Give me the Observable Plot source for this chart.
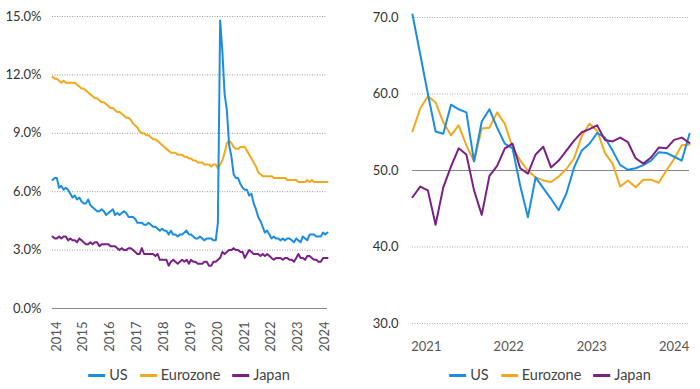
<!DOCTYPE html>
<html>
<head>
<meta charset="utf-8">
<script src="https://cdn.jsdelivr.net/npm/d3@7"></script>
<script src="https://cdn.jsdelivr.net/npm/@observablehq/plot@0.6"></script>
<style>
  body { margin: 0; background: #fff; font-family: Lato, Inter, sans-serif; }
  #wrap { position: relative; width: 700px; height: 389px; overflow: hidden; }
  .panel { position: absolute; top: 0; width: 350px; height: 389px; }
  .legend { position: absolute; top: 366px; transform: translateX(-50%); display: flex; align-items: center; white-space: nowrap; font-size: 14.5px; color: #444; line-height: 18px; }
  .item { display: flex; align-items: center; margin: 0 6px; }
  .sw { display: inline-block; width: 17px; height: 3px; margin-right: 4px; }
</style>
</head>
<body>
<div id="wrap">
  <div class="panel" id="left" style="left:0"></div>
  <div class="panel" id="right" style="left:350px"></div>
</div>
<script>
// ---------- Data ----------
const seriesNames = ["US", "Eurozone", "Japan"];
const seriesColors = ["#1a8de3", "#f2a81d", "#7a1f86"];

// Left panel: monthly unemployment rate (%), Jan 2014 - Apr 2024
const leftStartYear = 2014;
const usUnemp = [
  6.6,6.7,6.7,6.2,6.3,6.1,6.2,6.1,5.9,5.7,5.8,5.6,
  5.7,5.5,5.4,5.4,5.6,5.3,5.2,5.1,5.0,5.0,5.1,5.0,
  4.8,4.9,5.0,5.1,4.8,4.9,4.8,4.9,5.0,4.9,4.7,4.7,
  4.7,4.6,4.4,4.4,4.4,4.3,4.3,4.4,4.3,4.2,4.2,4.1,
  4.0,4.1,4.0,4.0,3.8,4.0,3.8,3.8,3.7,3.8,3.8,3.9,
  4.0,3.8,3.8,3.7,3.6,3.6,3.7,3.6,3.5,3.6,3.6,3.6,
  3.5,3.5,4.4,14.8,13.2,11.0,10.2,8.4,7.8,6.9,6.7,6.7,
  6.4,6.2,6.1,6.1,5.8,5.9,5.4,5.1,4.7,4.5,4.2,3.9,
  4.0,3.8,3.6,3.7,3.6,3.6,3.5,3.6,3.5,3.6,3.6,3.5,
  3.4,3.6,3.5,3.4,3.7,3.6,3.5,3.8,3.8,3.8,3.7,3.7,
  3.7,3.9,3.8,3.9
];
const ezUnemp = [
  11.9,11.8,11.8,11.7,11.6,11.7,11.6,11.6,11.6,11.6,11.6,11.5,
  11.4,11.3,11.3,11.2,11.1,11.0,10.9,10.8,10.8,10.7,10.6,10.6,
  10.5,10.4,10.3,10.3,10.2,10.1,10.1,10.0,9.9,9.8,9.8,9.7,
  9.5,9.4,9.3,9.1,9.0,9.0,8.9,8.9,8.8,8.7,8.7,8.6,
  8.5,8.4,8.3,8.2,8.1,8.0,8.0,8.0,7.9,7.9,7.9,7.8,
  7.8,7.7,7.7,7.6,7.6,7.5,7.5,7.5,7.4,7.4,7.4,7.3,
  7.4,7.4,7.2,7.4,7.6,8.0,8.5,8.6,8.5,8.3,8.2,8.2,
  8.3,8.3,8.3,8.1,7.9,7.7,7.5,7.3,7.0,6.9,6.8,6.8,
  6.8,6.8,6.8,6.7,6.7,6.7,6.7,6.7,6.7,6.6,6.6,6.6,
  6.6,6.6,6.5,6.5,6.5,6.5,6.6,6.5,6.6,6.5,6.5,6.5,
  6.5,6.5,6.5,6.5
];
const jpUnemp = [
  3.7,3.6,3.6,3.7,3.6,3.7,3.7,3.5,3.6,3.5,3.5,3.4,
  3.6,3.5,3.4,3.3,3.3,3.4,3.3,3.4,3.4,3.2,3.3,3.3,
  3.3,3.3,3.2,3.2,3.2,3.1,3.0,3.1,3.0,3.0,3.1,3.1,
  3.0,2.9,2.8,2.8,3.1,2.8,2.8,2.8,2.8,2.8,2.7,2.8,
  2.5,2.5,2.5,2.5,2.2,2.4,2.5,2.4,2.3,2.4,2.5,2.4,
  2.5,2.3,2.5,2.4,2.4,2.3,2.3,2.3,2.4,2.4,2.2,2.2,
  2.4,2.4,2.5,2.6,2.9,2.8,2.9,3.0,3.0,3.1,3.0,3.0,
  2.9,2.9,2.6,2.8,3.0,2.9,2.8,2.8,2.8,2.7,2.8,2.7,
  2.8,2.7,2.6,2.5,2.6,2.6,2.6,2.5,2.6,2.6,2.5,2.5,
  2.4,2.6,2.8,2.6,2.6,2.5,2.7,2.7,2.6,2.5,2.5,2.4,
  2.4,2.6,2.6,2.6
];
const leftYTicks = [0, 3, 6, 9, 12, 15];
const leftXYears = [2014, 2015, 2016, 2017, 2018, 2019, 2020, 2021, 2022, 2023, 2024];

// Right panel: PMI readings, sequential observations
const usPmi = [70.4,65.2,60.0,55.1,54.8,58.6,58.0,57.6,51.2,56.4,58.0,55.6,53.5,52.9,48.0,43.9,49.1,47.7,46.3,44.8,47.0,50.4,52.6,53.5,54.9,54.3,52.6,50.7,50.1,50.3,50.7,51.3,52.4,52.3,51.8,51.3,54.8];
const ezPmi = [55.1,58.1,59.7,58.9,56.3,54.6,55.9,53.3,51.2,55.5,55.6,57.6,56.1,53.0,51.3,50.0,49.1,48.7,48.5,49.2,50.2,51.6,54.5,56.1,55.2,52.3,50.9,47.9,48.7,47.8,48.8,48.8,48.4,50.0,51.5,53.3,53.4];
const jpPmi = [46.5,47.9,47.4,42.9,47.8,50.5,52.9,52.1,47.4,44.2,49.3,50.6,52.9,53.5,50.3,49.6,52.1,53.1,50.4,51.3,52.6,53.9,55.0,55.4,55.9,54.0,53.8,54.3,53.7,51.6,50.9,51.7,53.0,52.9,54.0,54.3,53.6];
const rightYTicks = [30, 40, 50, 60, 70];
const rightXTickPos = [1.8, 12.5, 23.3, 34.0];
const rightXTickLabels = ["2021", "2022", "2023", "2024"];

// ---------- Build tables ----------
const leftSeries = [usUnemp, ezUnemp, jpUnemp];
const leftTable = [];
leftSeries.forEach((arr, s) => arr.forEach((v, i) => leftTable.push({
  series: seriesNames[s], date: new Date(Date.UTC(leftStartYear, i, 1)), value: v
})));
const leftLast = new Date(Date.UTC(leftStartYear, usUnemp.length - 1, 1));

const rightSeries = [usPmi, ezPmi, jpPmi];
const rightTable = [];
rightSeries.forEach((arr, s) => arr.forEach((v, i) => rightTable.push({
  series: seriesNames[s], idx: i, value: v
})));

const drawOrder = ["Eurozone", "US", "Japan"];
const colorOf = n => seriesColors[seriesNames.indexOf(n)];
const baseStyle = { fontSize: "13px", fontFamily: "Lato, Inter, sans-serif", color: "#333", background: "transparent", overflow: "visible" };

// ---------- Left chart ----------
const leftPlot = Plot.plot({
  width: 350, height: 360,
  marginLeft: 52, marginRight: 23, marginTop: 16, marginBottom: 52,
  style: baseStyle,
  x: { type: "utc", domain: [new Date(Date.UTC(leftStartYear, 0, 1)), leftLast] },
  y: { domain: [0, 15] },
  marks: [
    Plot.gridY(leftYTicks.filter(d => d !== 0), { stroke: "#999", strokeOpacity: 1, strokeDasharray: "1,1.5" }),
    Plot.ruleY([0], { stroke: "#8a8a8a", strokeWidth: 1 }),
    ...drawOrder.map(n => Plot.line(leftTable.filter(d => d.series === n), {
      x: "date", y: "value", stroke: colorOf(n), strokeWidth: 2
    })),
    Plot.axisY(leftYTicks, { label: null, tickSize: 0, tickPadding: 11, tickFormat: d => d.toFixed(1) + "%", fill: "#333" }),
    Plot.axisX(leftXYears.map(y => new Date(Date.UTC(y, 0, 1))), {
      label: null, tickSize: 0, tickPadding: 13, tickRotate: -90, dx: 4,
      tickFormat: d => String(d.getUTCFullYear()), fill: "#555"
    })
  ]
});

// ---------- Right chart ----------
const rightPlot = Plot.plot({
  width: 350, height: 360,
  marginLeft: 62, marginRight: 11, marginTop: 17, marginBottom: 37,
  style: baseStyle,
  x: { type: "linear", domain: [0, usPmi.length - 1] },
  y: { domain: [30, 70] },
  marks: [
    Plot.gridY(rightYTicks.filter(d => d !== 50), { stroke: "#aaa", strokeOpacity: 1, strokeDasharray: "1,1.5" }),
    Plot.ruleY([50], { stroke: "#8585a0", strokeWidth: 1.2 }),
    ...drawOrder.map(n => Plot.line(rightTable.filter(d => d.series === n), {
      x: "idx", y: "value", stroke: colorOf(n), strokeWidth: 2
    })),
    Plot.axisY(rightYTicks, { label: null, tickSize: 0, tickPadding: 14, tickFormat: d => d.toFixed(1), fill: "#333" }),
    Plot.axisX(rightXTickPos, {
      label: null, tickSize: 0, tickPadding: 18,
      tickFormat: (d, i) => rightXTickLabels[i], fill: "#555"
    })
  ]
});

document.getElementById("left").appendChild(leftPlot);
document.getElementById("right").appendChild(rightPlot);

// ---------- Legends ----------
function legend(container, centerX) {
  const div = document.createElement("div");
  div.className = "legend";
  div.style.left = centerX + "px";
  seriesNames.forEach((n, i) => {
    const item = document.createElement("span");
    item.className = "item";
    const sw = document.createElement("span");
    sw.className = "sw";
    sw.style.background = seriesColors[i];
    const t = document.createElement("span");
    t.textContent = n;
    item.appendChild(sw); item.appendChild(t);
    div.appendChild(item);
  });
  container.appendChild(div);
}
legend(document.getElementById("left"), 189);
legend(document.getElementById("right"), 200);
</script>
</body>
</html>
